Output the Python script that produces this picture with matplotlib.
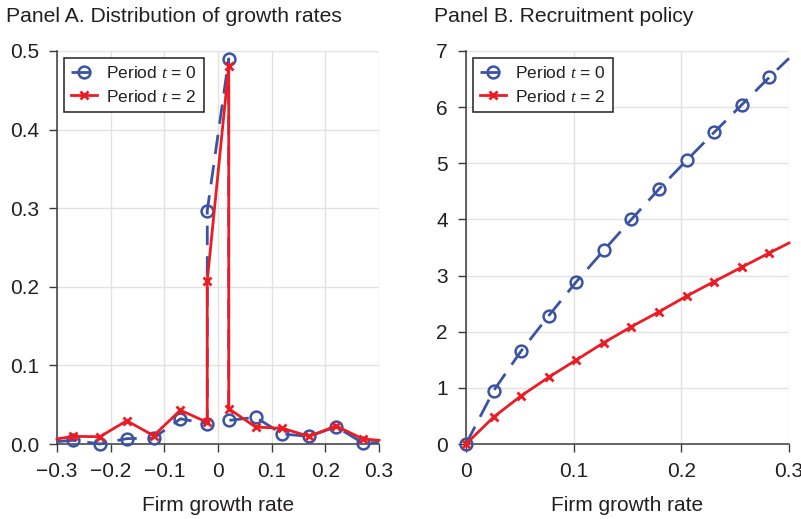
import matplotlib
matplotlib.use("Agg")
import matplotlib.pyplot as plt

plt.rcParams['font.family'] = ['Liberation Sans', 'DejaVu Sans']
plt.rcParams['mathtext.fontset'] = 'custom'
plt.rcParams['mathtext.rm'] = 'Liberation Sans'
plt.rcParams['mathtext.it'] = 'Liberation Serif:italic'
plt.rcParams['axes.unicode_minus'] = True

# Panel A data (growth-rate distribution); duplicated x gives vertical jumps
a_x0 = [-0.30, -0.27, -0.22, -0.17, -0.12, -0.07, -0.02, -0.02, 0.02, 0.02, 0.07, 0.12, 0.17, 0.22, 0.27, 0.30]
a_y0 = [0.003, 0.0047, 0.0, 0.0068, 0.0076, 0.032, 0.026, 0.297, 0.490, 0.030, 0.034, 0.0127, 0.0097, 0.022, 0.0013, 0.002]
a_x2 = [-0.30, -0.27, -0.22, -0.17, -0.12, -0.07, -0.02, -0.02, 0.02, 0.02, 0.07, 0.12, 0.17, 0.22, 0.27, 0.30]
a_y2 = [0.0064, 0.0097, 0.0093, 0.0296, 0.0106, 0.043, 0.0275, 0.208, 0.4805, 0.045, 0.0216, 0.020, 0.0097, 0.023, 0.0064, 0.0047]

# Panel B data (recruitment policy)
b_x = [0.0, 0.0256, 0.0512, 0.0768, 0.1024, 0.128, 0.1536, 0.1792, 0.2048, 0.2304, 0.256, 0.2816, 0.30]
b_y0 = [0.0, 0.947, 1.657, 2.284, 2.888, 3.45, 4.0, 4.54, 5.05, 5.55, 6.04, 6.53, 6.87]
b_y2 = [0.0, 0.479, 0.858, 1.189, 1.497, 1.805, 2.089, 2.355, 2.633, 2.893, 3.148, 3.402, 3.58]

labels = [r"Period $t$ = 0", r"Period $t$ = 2"]
BLUE = '#3A53A4'
RED = '#ED1C24'
TXT = '#231F20'

fig = plt.figure(figsize=(8.01, 5.19), dpi=100)
W, H = 801, 519
axA = fig.add_axes([57 / W, 1 - 444 / H, (379 - 57) / W, (444 - 51) / H])
axB = fig.add_axes([466 / W, 1 - 444 / H, (789 - 466) / W, (444 - 51) / H])

def style(ax):
    for s in ['top', 'right']:
        ax.spines[s].set_visible(False)
    for s in ['left', 'bottom']:
        ax.spines[s].set_color('#3a3a3a')
        ax.spines[s].set_linewidth(1.1)
    ax.grid(True, color='#E2E2E2', linewidth=1.0)
    ax.set_axisbelow(True)
    ax.tick_params(direction='out', length=6, width=1.0, color='#3a3a3a',
                   labelsize=15, labelcolor=TXT)
    ax.tick_params(axis='y', pad=7)
    ax.tick_params(axis='x', pad=7)
    ax.set_xlabel('Firm growth rate', fontsize=15, color=TXT, labelpad=11)

ma = list(range(1, 15))
axA.plot(a_x0, a_y0, color=BLUE, lw=2, dashes=(7, 4), marker='o', mfc='none',
         mec=BLUE, mew=1.8, ms=8.5, markevery=ma, label=labels[0], clip_on=False, zorder=3)
axA.plot(a_x2, a_y2, color=RED, lw=2, marker='x', mec=RED, mew=2, ms=6,
         markevery=ma, label=labels[1], clip_on=False, zorder=4)
axA.set_xlim(-0.3, 0.3)
axA.set_ylim(0, 0.5)
axA.set_xticks([-0.3, -0.2, -0.1, 0, 0.1, 0.2, 0.3])
axA.set_xticklabels(['\u22120.3', '\u22120.2', '\u22120.1', '0', '0.1', '0.2', '0.3'])
axA.set_yticks([0, 0.1, 0.2, 0.3, 0.4, 0.5])
axA.set_yticklabels(['0.0', '0.1', '0.2', '0.3', '0.4', '0.5'])
style(axA)

mb = list(range(0, 12))
axB.plot(b_x, b_y0, color=BLUE, lw=2, dashes=(7, 4), marker='o', mfc='none',
         mec=BLUE, mew=1.8, ms=8.5, markevery=mb, label=labels[0], clip_on=False, zorder=3)
axB.plot(b_x, b_y2, color=RED, lw=2, marker='x', mec=RED, mew=2, ms=6,
         markevery=mb, label=labels[1], clip_on=False, zorder=4)
axB.set_xlim(0, 0.3)
axB.set_ylim(0, 7)
axB.set_xticks([0, 0.1, 0.2, 0.3])
axB.set_xticklabels(['0', '0.1', '0.2', '0.3'])
axB.set_yticks(range(0, 8))
style(axB)

for ax in (axA, axB):
    leg = ax.legend(loc='upper left', fontsize=12.5, frameon=True, fancybox=False,
                    edgecolor='#231F20', framealpha=1, borderpad=0.42,
                    handlelength=1.5, handletextpad=0.5, labelspacing=0.42,
                    borderaxespad=0.4)
    leg.get_frame().set_linewidth(1.1)
    for t in leg.get_texts():
        t.set_color(TXT)

fig.text(6 / W, 1 - 16 / H, 'Panel A. Distribution of growth rates', fontsize=15.2,
         color=TXT, ha='left', va='center')
fig.text(434 / W, 1 - 16 / H, 'Panel B. Recruitment policy', fontsize=15.2,
         color=TXT, ha='left', va='center')

fig.savefig('out.png', dpi=100)
